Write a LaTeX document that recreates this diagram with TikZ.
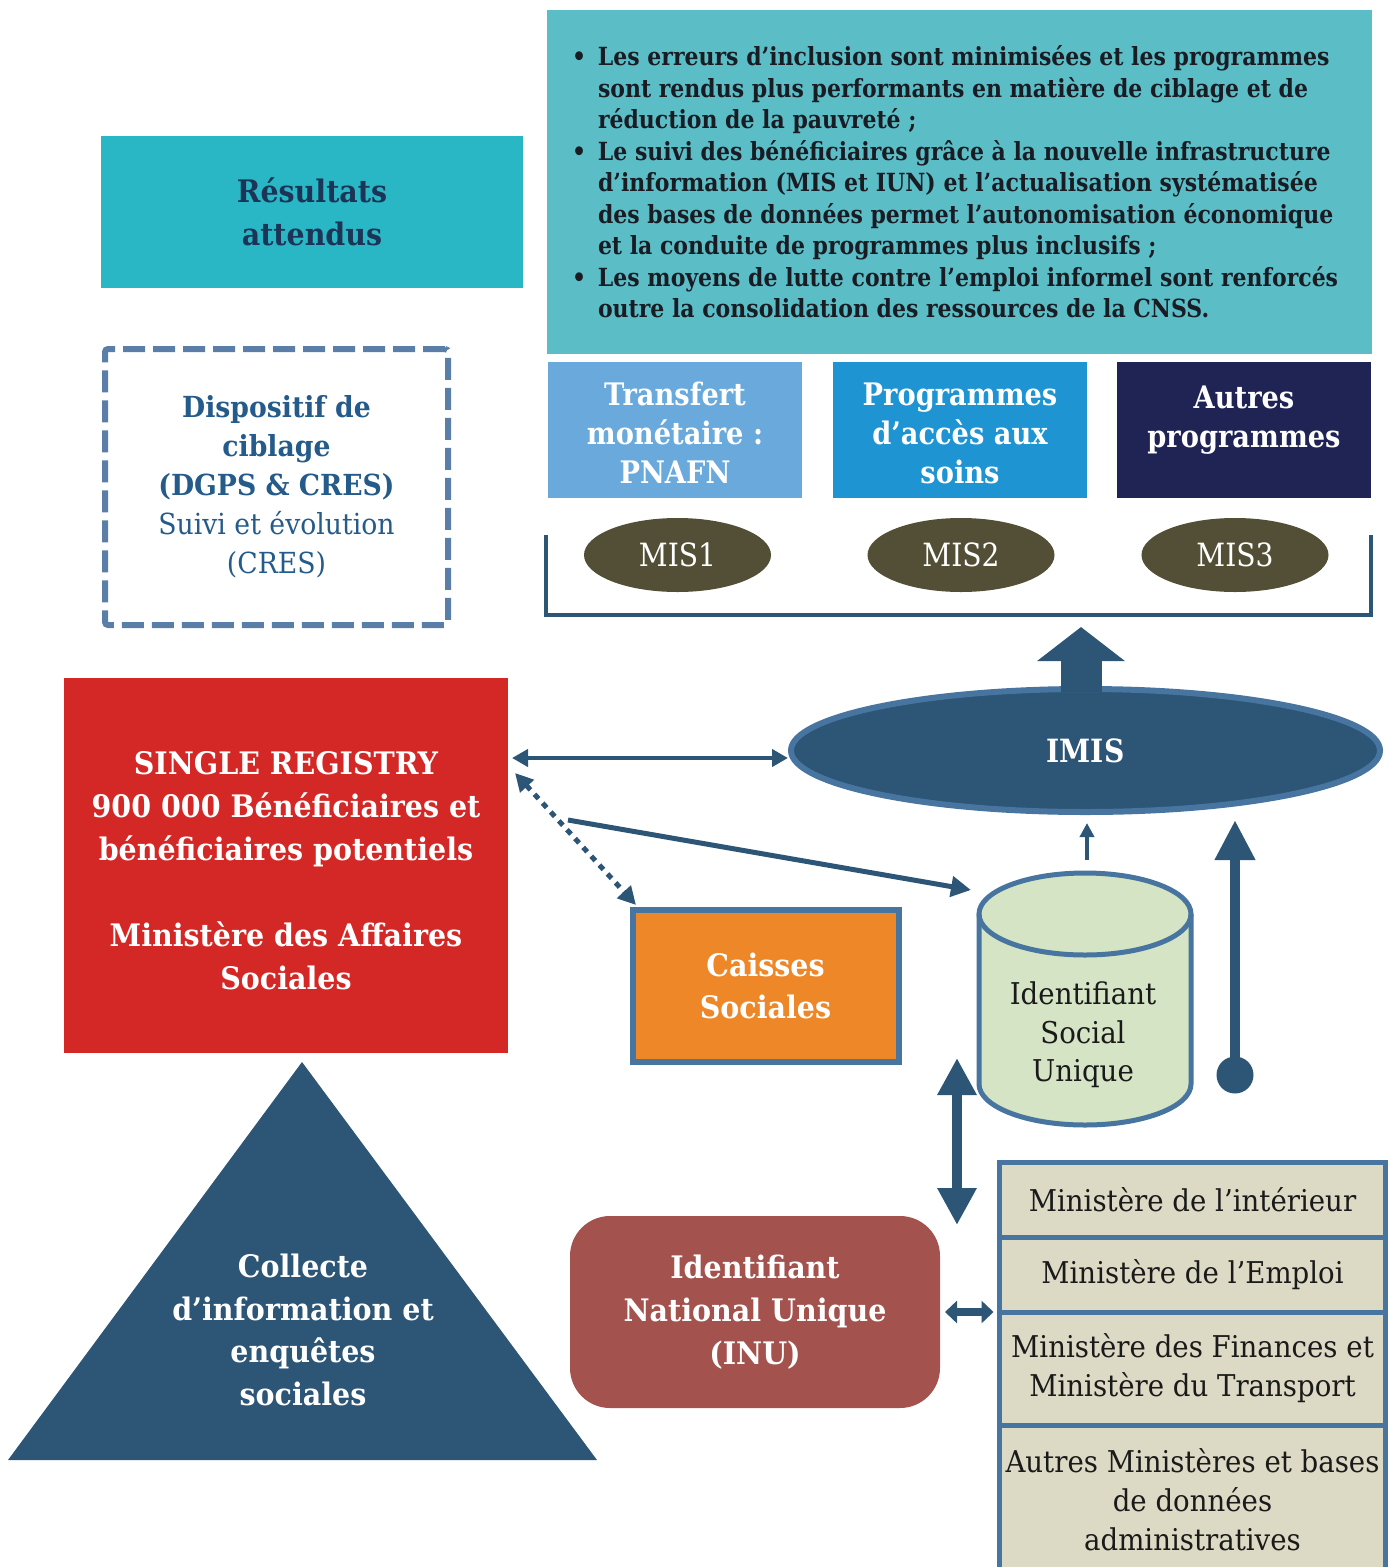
\documentclass[tikz,border=0pt]{standalone}
\usepackage{fontspec}
\setmainfont{DejaVu Serif}[FakeStretch=0.92]
\newfontfamily\condf{DejaVu Serif}[FakeStretch=0.88]
\usetikzlibrary{arrows.meta,shapes.geometric,calc}
\definecolor{cTop}{HTML}{5BBDC6}
\definecolor{cTopTxt}{HTML}{1A1C24}
\definecolor{cRes}{HTML}{29B7C6}
\definecolor{cNavy}{HTML}{1C3557}
\definecolor{cP1}{HTML}{6AA9DB}
\definecolor{cP2}{HTML}{1F94D2}
\definecolor{cP3}{HTML}{202454}
\definecolor{cMis}{HTML}{534F36}
\definecolor{cArr}{HTML}{2C5576}
\definecolor{cDash}{HTML}{5A7EA8}
\definecolor{cDisp}{HTML}{245B8A}
\definecolor{cRed}{HTML}{D42826}
\definecolor{cImisB}{HTML}{4775A0}
\definecolor{cCyl}{HTML}{D4E4C4}
\definecolor{cOrange}{HTML}{EE8727}
\definecolor{cInu}{HTML}{A3524E}
\definecolor{cBeige}{HTML}{DCD9C4}
\definecolor{cDark}{HTML}{1A1A1A}
\newcommand\fsz[2]{\fontsize{#1}{#2}\selectfont}
\begin{document}
\begin{tikzpicture}[x=1pt,y=-1pt,
  plain/.style={inner sep=0pt, outer sep=0pt},
  prog/.style={plain, minimum width=254pt, minimum height=136pt},
  progtxt/.style={plain, text=white, align=center, font=\condf\bfseries\fsz{31}{39}},
  mis/.style={ellipse, plain, fill=cMis, minimum width=187pt, minimum height=74pt, text=white, font=\condf\fsz{32}{36}},
  conn/.style={draw=cArr, color=cArr},
  mini/.style={plain, fill=cBeige, draw=cImisB, line width=5pt, minimum width=386pt, align=center, text=cDark, font=\fsz{30}{39}}
]
\useasboundingbox (0,0) rectangle (1395,1567);

% top outcome box
\node[plain, fill=cTop, minimum width=825pt, minimum height=344pt] (out) at (959.5,182) {};
\node[plain, anchor=west, align=left, text=cTopTxt, font=\condf\bfseries\fsz{25}{31.5}] (outtxt) at (572,182)
{\makebox[26pt][l]{•}Les erreurs d’inclusion sont minimisées et les programmes\\
\hspace*{26pt}sont rendus plus performants en matière de ciblage et de\\
\hspace*{26pt}réduction de la pauvreté ;\\
\makebox[26pt][l]{•}Le suivi des bénéficiaires grâce à la nouvelle infrastructure\\
\hspace*{26pt}d’information (MIS et IUN) et l’actualisation systématisée\\
\hspace*{26pt}des bases de données permet l’autonomisation économique\\
\hspace*{26pt}et la conduite de programmes plus inclusifs ;\\
\makebox[26pt][l]{•}Les moyens de lutte contre l’emploi informel sont renforcés\\
\hspace*{26pt}outre la consolidation des ressources de la CNSS.};

% Résultats attendus
\node[plain, fill=cRes, minimum width=422pt, minimum height=152pt, text=cNavy, align=center, font=\bfseries\fsz{31}{43}] (res) at (312,212) {Résultats\\attendus};

% programmes
\node[prog, fill=cP1] (p1) at (675,430) {};
\node[progtxt] (p1t) at (675,433) {Transfert\\monétaire :\\PNAFN};
\node[prog, fill=cP2] (p2) at (960,430) {};
\node[progtxt] (p2t) at (960,433) {Programmes\\d’accès aux\\soins};
\node[prog, fill=cP3] (p3) at (1244,430) {};
\node[progtxt] (p3t) at (1244,420) {Autres\\programmes};

% bracket
\draw[cArr, line width=4pt] (546,535) -- (546,615) -- (1371,615) -- (1371,535);

% MIS
\node[mis] (mis1) at (677.5,555) {MIS1};
\node[mis] (mis2) at (961,555) {MIS2};
\node[mis] (mis3) at (1235,555) {MIS3};

% Dispositif
\node[plain, draw=cDash, line width=6pt, dash pattern=on 22pt off 8pt, rounded corners=3pt, minimum width=343pt, minimum height=276pt, align=center, text=cDisp, font=\fsz{29}{39}] (disp) at (276.5,487)
{\textbf{Dispositif de}\\\textbf{ciblage}\\\textbf{(DGPS \& CRES)}\\Suivi et évolution\\(CRES)};

% Single registry
\node[plain, fill=cRed, minimum width=444pt, minimum height=375pt] (reg) at (286,865.5) {};
\node[plain, text=white, align=center, font=\bfseries\fsz{31}{43}] (regt) at (286,870.5)
{SINGLE REGISTRY\\900 000 Bénéficiaires et\\bénéficiaires potentiels\\[43pt]Ministère des Affaires\\Sociales};

% triangle
\fill[cArr] (302,1062) -- (597,1460) -- (8,1460) -- cycle;
\node[plain, text=white, align=center, font=\bfseries\fsz{31}{42.5}] (coll) at (303,1330) {Collecte\\d’information et\\enquêtes\\sociales};

% IMIS
\node[ellipse, plain, fill=cArr, draw=cImisB, line width=6pt, minimum width=589pt, minimum height=123pt, text=white, font=\condf\bfseries\fsz{32}{38}] (imis) at (1085.5,750.5) {IMIS};
\coordinate (uptip) at (1081,627);
\draw[conn, line width=41pt, -{Triangle[width=86pt,length=34pt]}] ([yshift=-3pt]imis.north -| uptip) -- (uptip);

% registry <-> IMIS
\coordinate (rowA) at (0,758);
\draw[conn, line width=4pt, {Triangle[width=17pt,length=16pt]}-{Triangle[width=17pt,length=16pt]}] ([xshift=4pt]reg.east |- rowA) -- ([xshift=-3pt]imis.west |- rowA);

% dotted registry <-> caisses
\coordinate (dotS) at (515,773);
\coordinate (dotE) at (636,905);
\draw[conn, line width=5pt, dash pattern=on 6pt off 6pt, {Triangle[width=18pt,length=18pt]}-{Triangle[width=18pt,length=18pt]}] (dotS) -- (dotE);

% registry -> cylinder
\coordinate (regS) at (568,820);
\coordinate (cylW) at (971,890);
\draw[conn, line width=5pt, -{Triangle[width=20pt,length=20pt]}] (regS) -- (cylW);

% Caisses sociales
\node[plain, fill=cOrange, draw=cImisB, line width=6pt, minimum width=266pt, minimum height=152pt, text=white, align=center, font=\bfseries\fsz{31}{42}] (caisse) at (765.5,985.5) {Caisses\\Sociales};

% cylinder
\fill[cCyl] (979,914) -- (979,1084) arc[start angle=180, end angle=0, x radius=106, y radius=41] -- (1191,914) arc[start angle=0, end angle=-180, x radius=106, y radius=41] -- cycle;
\draw[cImisB, line width=5pt] (979,914) -- (979,1084) arc[start angle=180, end angle=0, x radius=106, y radius=41] -- (1191,914);
\draw[cImisB, line width=5pt] (1085,914) ellipse[x radius=106, y radius=41];
\node[plain, align=center, text=cDark, font=\fsz{30}{38.5}] (cyl) at (1083,1035) {Identifiant\\Social\\Unique};

% cylinder -> IMIS small arrow
\coordinate (cyltop) at (1087,860);
\draw[conn, line width=4pt, -{Triangle[width=14pt,length=14pt]}] (cyltop) -- ([yshift=-11pt]cyltop |- imis.south);

% right arrow with dot
\node[circle, plain, fill=cArr, minimum size=37pt] (dot) at (1235,1075) {};
\coordinate (rtip) at (1235,820);
\draw[conn, line width=10pt, -{Triangle[width=38pt,length=40pt]}] (dot.center) -- (rtip);

% vertical double arrow
\coordinate (vT) at (957,1058);
\coordinate (vB) at (957,1225);
\draw[conn, line width=10pt, {Triangle[width=37pt,length=37pt]}-{Triangle[width=37pt,length=37pt]}] (vT) -- (vB);

% INU
\node[plain, fill=cInu, rounded corners=40pt, minimum width=370pt, minimum height=192pt, text=white, align=center, font=\bfseries\fsz{31}{43}] (inu) at (755,1312) {Identifiant\\National Unique\\(INU)};

% ministries
\node[mini, minimum height=75pt] (m1) at (1192.5,1199.5) {Ministère de l’intérieur};
\node[mini, minimum height=75pt] (m2) at (1192.5,1274.5) {Ministère de l’Emploi};
\node[mini, minimum height=113pt] (m3) at (1192.5,1368.5) {Ministère des Finances et\\Ministère du Transport};
\node[mini, minimum height=150pt] (m4) at (1192.5,1500) {Autres Ministères et bases\\de données\\administratives};

% INU <-> ministries
\draw[conn, line width=8pt, {Triangle[width=22pt,length=12pt]}-{Triangle[width=22pt,length=12pt]}] ([xshift=5pt]inu.east) -- ([xshift=-6pt]inu.east -| m3.west);
\end{tikzpicture}
\end{document}
